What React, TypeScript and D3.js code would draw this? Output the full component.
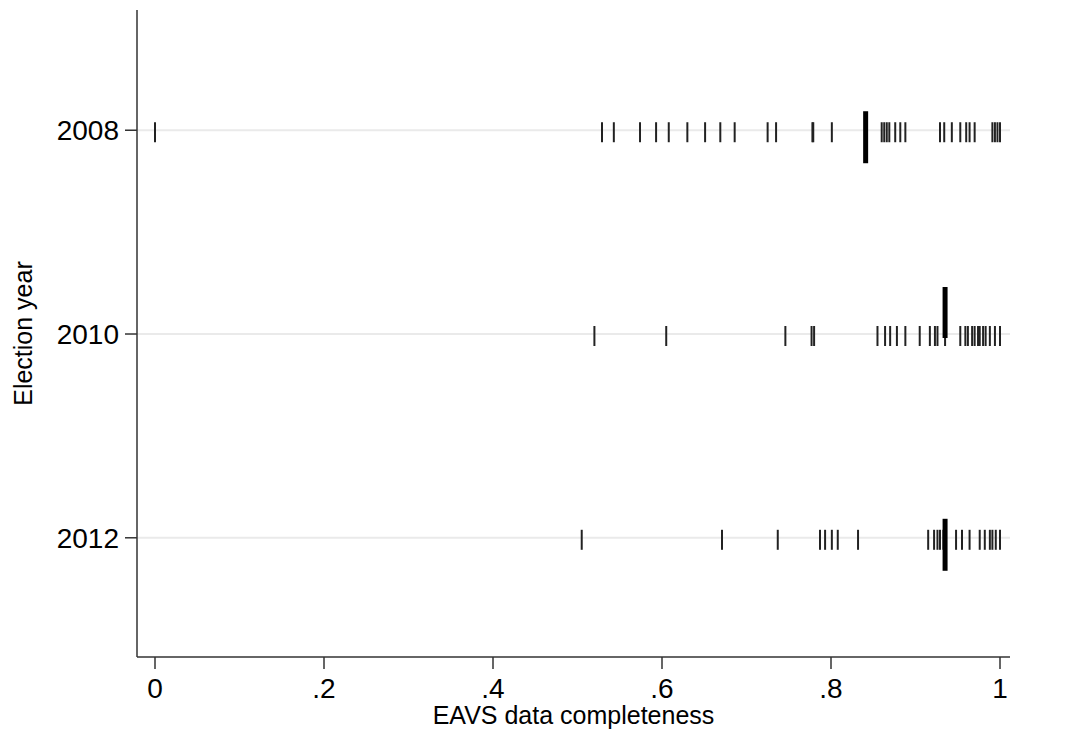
import React from "react";
import * as d3 from "d3";

const years = [2008, 2010, 2012];
const yTickLabels = ["2008", "2010", "2012"];
const xTickValues = [0, 0.2, 0.4, 0.6, 0.8, 1];
const xTickLabels = ["0", ".2", ".4", ".6", ".8", "1"];

const values2008 = [0, 0.529, 0.543, 0.574, 0.593, 0.608, 0.63, 0.651, 0.669, 0.686, 0.725, 0.735, 0.778, 0.779, 0.801,
  0.86, 0.863, 0.866, 0.869, 0.876, 0.882, 0.888, 0.929, 0.934, 0.943, 0.953, 0.96, 0.964, 0.97, 0.991, 0.994, 0.997, 1.0];
const values2010 = [0.52, 0.605, 0.746, 0.777, 0.78, 0.855, 0.864, 0.87, 0.878, 0.888, 0.905, 0.917, 0.923, 0.926,
  0.935, 0.953, 0.959, 0.962, 0.967, 0.97, 0.974, 0.976, 0.98, 0.983, 0.988, 0.994, 1.0];
const values2012 = [0.505, 0.671, 0.737, 0.787, 0.793, 0.801, 0.808, 0.832, 0.915, 0.922, 0.926, 0.929, 0.933,
  0.948, 0.955, 0.964, 0.976, 0.982, 0.988, 0.991, 0.995, 1.0];
const medians = [0.841, 0.935, 0.935];

const seriesValues = [values2008, values2010, values2012];

export default function App() {
  const W = 1091, H = 735;
  const left = 137, right = 1010, top = 10, bottom = 657;
  const x = d3.scaleLinear().domain([0, 1]).range([155, 1000]);
  const y = d3.scaleLinear().domain([2006.82, 2013.17]).range([top, bottom]);
  const font = "'Liberation Sans', Arial, sans-serif";
  return (
    <svg width={W} height={H} style={{ position: "absolute", left: 0, top: 0, background: "#fff" }}>
      <rect x={0} y={0} width={W} height={H} fill="#fff" />
      {years.map((yr) => (
        <line key={"g" + yr} x1={left} x2={right} y1={y(yr)} y2={y(yr)} stroke="#eaeaea" strokeWidth={2} />
      ))}
      {seriesValues.map((vals, i) =>
        vals.map((v, j) => (
          <line key={i + "-" + j} x1={x(v)} x2={x(v)} y1={y(years[i]) - 8} y2={y(years[i]) + 12}
            stroke="#222" strokeWidth={2} />
        ))
      )}
      {medians.map((m, i) => (
        <line key={"m" + i} x1={x(m)} x2={x(m)}
          y1={i === 1 ? y(years[i]) - 47 : y(years[i]) - 19}
          y2={i === 1 ? y(years[i]) + 4 : y(years[i]) + 33}
          stroke="#000" strokeWidth={5} />
      ))}
      <line x1={left} x2={left} y1={top} y2={bottom} stroke="#333" strokeWidth={1.5} />
      <line x1={left} x2={right} y1={bottom} y2={bottom} stroke="#333" strokeWidth={1.5} />
      {years.map((yr, i) => (
        <g key={"yt" + yr}>
          <line x1={left - 12} x2={left} y1={y(yr)} y2={y(yr)} stroke="#333" strokeWidth={1.5} />
          <text x={left - 18} y={y(yr) + 10} textAnchor="end" fontFamily={font} fontSize={28} fill="#000">
            {yTickLabels[i]}
          </text>
        </g>
      ))}
      {xTickValues.map((v, i) => (
        <g key={"xt" + i}>
          <line x1={x(v)} x2={x(v)} y1={bottom} y2={bottom + 12} stroke="#333" strokeWidth={1.5} />
          <text x={x(v)} y={bottom + 41} textAnchor="middle" fontFamily={font} fontSize={28} fill="#000">
            {xTickLabels[i]}
          </text>
        </g>
      ))}
      <text x={(left + right) / 2} y={bottom + 67} textAnchor="middle" fontFamily={font} fontSize={25} fill="#000">
        EAVS data completeness
      </text>
      <text transform={`translate(32, ${(top + bottom) / 2}) rotate(-90)`} textAnchor="middle" fontFamily={font} fontSize={25} fill="#000">
        Election year
      </text>
    </svg>
  );
}
